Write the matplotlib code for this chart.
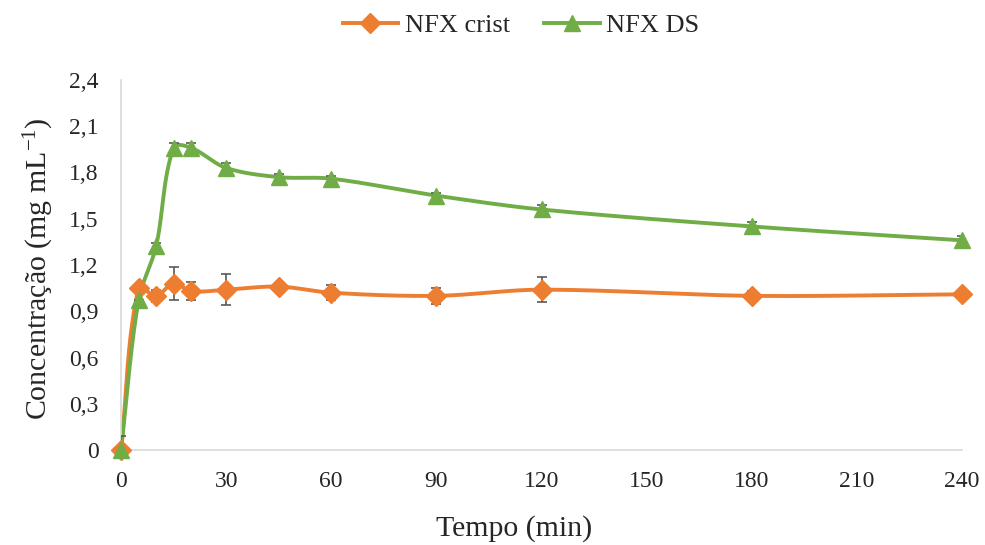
import numpy as np
import matplotlib
matplotlib.use('Agg')
from matplotlib import pyplot as plt
from matplotlib.lines import Line2D
from matplotlib.ticker import FuncFormatter, MultipleLocator

plt.rcParams['font.family'] = ['Liberation Serif', 'DejaVu Serif']
plt.rcParams['mathtext.fontset'] = 'custom'
plt.rcParams['mathtext.rm'] = 'Liberation Serif'
plt.rcParams['mathtext.it'] = 'Liberation Serif:italic'

# tempos de coleta (min)
tempo = [0, 5, 10, 15, 20, 30, 45, 60, 90, 120, 180, 240]

# concentração média e desvio padrão (mg/mL)
nfx_crist = [0.0, 1.05, 1.00, 1.08, 1.03, 1.04, 1.06, 1.02, 1.00, 1.04, 1.00, 1.01]
nfx_crist_dp = [0.09, 0.0, 0.04, 0.11, 0.06, 0.10, 0.0, 0.05, 0.05, 0.08, 0.03, 0.0]
nfx_ds = [0.0, 0.97, 1.32, 1.96, 1.96, 1.83, 1.77, 1.76, 1.65, 1.56, 1.45, 1.36]
nfx_ds_dp = [0.0, 0.0, 0.02, 0.03, 0.03, 0.03, 0.02, 0.02, 0.02, 0.03, 0.03, 0.03]

laranja = '#ED7D31'
verde = '#70AD47'
cinza = '#595959'


def suavizar(ax, x, y, n=40, tensao=0.33):
    # linha suavizada tipo Excel: Bezier cúbica calculada em pixels,
    # tangentes normalizadas pelo comprimento de cada trecho
    p = ax.transData.transform(np.column_stack([x, y]))
    pts = np.vstack([p[0], p, p[-1]])
    t = np.linspace(0, 1, n)[:, None]
    out = []
    for i in range(1, len(pts) - 2):
        p0, p1, p2, p3 = pts[i - 1], pts[i], pts[i + 1], pts[i + 2]
        d = np.hypot(*(p2 - p1))
        t1 = p2 - p0
        t2 = p3 - p1
        t1 = t1 / (np.hypot(*t1) or 1)
        t2 = t2 / (np.hypot(*t2) or 1)
        c1 = p1 + t1 * d * tensao
        c2 = p2 - t2 * d * tensao
        seg = ((1 - t) ** 3) * p1 + 3 * ((1 - t) ** 2) * t * c1 + 3 * (1 - t) * t ** 2 * c2 + t ** 3 * p2
        out.append(seg if i == 1 else seg[1:])
    out = ax.transData.inverted().transform(np.vstack(out))
    return out[:, 0], out[:, 1]


fig = plt.figure(figsize=(9.85, 5.45), dpi=100)
ax = fig.add_axes([121 / 985, 1 - 450 / 545, 841 / 985, 370 / 545])
ax.set_xlim(0, 240)
ax.set_ylim(0, 2.4)

series = [
    ('NFX crist', nfx_crist, nfx_crist_dp, laranja, 'D', 10),
    ('NFX DS', nfx_ds, nfx_ds_dp, verde, '^', 12),
]
handles = []
for nome, y, dp, cor, mk, ms in series:
    xs, ys = suavizar(ax, tempo, y)
    ax.plot(xs, ys, color=cor, lw=2.8, solid_capstyle='round', zorder=2)
    ax.errorbar(tempo, y, yerr=dp, fmt='none', ecolor=cinza, elinewidth=1.2,
                capsize=3.5, capthick=1.2, zorder=3)
    ax.plot(tempo, y, linestyle='none', marker=mk, ms=ms, color=cor, mec=cor,
            mew=1, zorder=4, clip_on=False)
    handles.append(Line2D([], [], color=cor, lw=2.8, marker=mk, ms=ms, mec=cor))

ax.xaxis.set_major_locator(MultipleLocator(30))
ax.yaxis.set_major_locator(MultipleLocator(0.3))
ax.yaxis.set_major_formatter(FuncFormatter(
    lambda v, pos: '0' if abs(v) < 1e-9 else f'{v:.1f}'.replace('.', ',')))
ax.tick_params(axis='both', length=0, labelsize=17, colors='#262626')
ax.tick_params(axis='x', pad=15)
ax.tick_params(axis='y', pad=16)

for s in ['top', 'right']:
    ax.spines[s].set_visible(False)
for s in ['left', 'bottom']:
    ax.spines[s].set_color('#D9D9D9')
    ax.spines[s].set_linewidth(1.2)

ax.set_xlabel('Tempo (min)', fontsize=21.5, color='#262626')
ax.xaxis.set_label_coords(0.468, -0.175)
ax.set_ylabel('Concentração (mg mL$^{-1}$)', fontsize=21.5, color='#262626')
ax.yaxis.set_label_coords(-0.077, 0.49)

fig.legend(handles=handles, labels=[s[0] for s in series], loc='center',
           bbox_to_anchor=(0.529, 0.954), ncol=2, frameon=False, fontsize=19,
           handlelength=2.1, handletextpad=0.25, columnspacing=1.3,
           labelcolor='#262626')

plt.savefig('out.png', dpi=100)
